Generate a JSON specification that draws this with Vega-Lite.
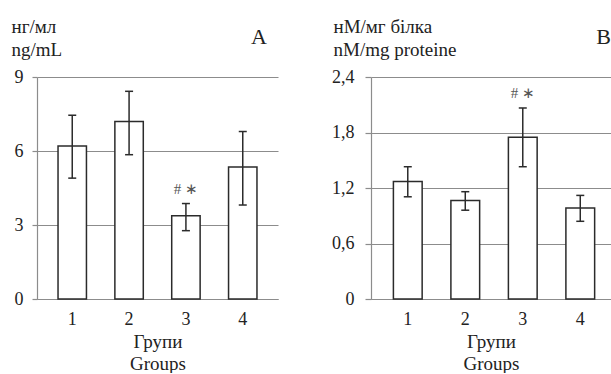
{
  "$schema": "https://vega.github.io/schema/vega-lite/v6.json",
  "background": "white",
  "padding": {"left": 11, "top": 17, "right": 0, "bottom": 0},
  "bounds": "flush",
  "spacing": 93,
  "config": {
    "font": "Liberation Serif",
    "view": {"stroke": null},
    "style": {"guide-title": {"font": "Liberation Serif", "fontSize": 19, "fontWeight": "normal", "fill": "#222"}},
    "axis": {
      "labelFont": "Liberation Serif", "titleFont": "Liberation Serif",
      "labelFontSize": 18, "titleFontSize": 19,
      "labelColor": "#222", "titleColor": "#222", "titleFontWeight": "normal",
      "domainColor": "#8c8c8c", "gridColor": "#8c8c8c", "tickColor": "#8c8c8c",
      "domainWidth": 1.2, "gridWidth": 1.2, "tickWidth": 1.2
    },
    "title": {"font": "Liberation Serif", "fontSize": 22, "fontWeight": "normal", "color": "#222", "anchor": "end", "frame": "group"}
  },
  "datasets": {
    "a": [
      {"group": "1", "mean": 6.2, "lo": 4.9, "hi": 7.45, "sig": ""},
      {"group": "2", "mean": 7.2, "lo": 5.85, "hi": 8.42, "sig": ""},
      {"group": "3", "mean": 3.37, "lo": 2.77, "hi": 3.87, "sig": "# ∗"},
      {"group": "4", "mean": 5.35, "lo": 3.81, "hi": 6.79, "sig": ""}
    ],
    "b": [
      {"group": "1", "mean": 1.27, "lo": 1.105, "hi": 1.43, "sig": ""},
      {"group": "2", "mean": 1.065, "lo": 0.96, "hi": 1.16, "sig": ""},
      {"group": "3", "mean": 1.75, "lo": 1.43, "hi": 2.065, "sig": "# ∗"},
      {"group": "4", "mean": 0.985, "lo": 0.84, "hi": 1.12, "sig": ""}
    ]
  },
  "hconcat": [
    {
      "width": 241, "height": 222,
      "title": {"text": "A", "dx": -11, "dy": 36},
      "data": {"name": "a"},
      "encoding": {
        "x": {"field": "group", "type": "ordinal",
          "scale": {"paddingInner": 0.5, "paddingOuter": 0.37},
          "axis": {"title": ["Групи", "Groups"], "titleFont": "Liberation Serif", "titleFontSize": 19, "labelAngle": 0, "ticks": false, "labelPadding": 11, "titleLineHeight": 22, "titlePadding": 4, "grid": false}}
      },
      "layer": [
        {"mark": {"type": "bar", "fill": "white", "stroke": "#2b2b2b", "strokeWidth": 1.5},
         "encoding": {"y": {"field": "mean", "type": "quantitative", "scale": {"domain": [0, 9], "nice": false},
           "axis": {"values": [0, 3, 6, 9], "tickSize": 5, "labelPadding": 9, "title": ["нг/мл", "ng/mL"], "titleFont": "Liberation Serif", "titleFontSize": 19, "titleAngle": 0, "titleAlign": "left", "titleBaseline": "alphabetic", "titleX": -26, "titleY": -45, "titleLineHeight": 23}}}},
        {"mark": {"type": "rule", "color": "#2b2b2b", "strokeWidth": 1.5},
         "encoding": {"y": {"field": "lo", "type": "quantitative"}, "y2": {"field": "hi"}}},
        {"mark": {"type": "tick", "color": "#2b2b2b", "thickness": 1.5, "size": 8, "opacity": 1},
         "encoding": {"y": {"field": "lo", "type": "quantitative"}}},
        {"mark": {"type": "tick", "color": "#2b2b2b", "thickness": 1.5, "size": 8, "opacity": 1},
         "encoding": {"y": {"field": "hi", "type": "quantitative"}}},
        {"mark": {"type": "text", "dy": -15, "fontSize": 15, "color": "#555", "font": "Liberation Serif"},
         "encoding": {"y": {"field": "hi", "type": "quantitative"}, "text": {"field": "sig"}}}
      ]
    },
    {
      "width": 240, "height": 222,
      "title": {"text": "B", "dx": 0, "dy": 36},
      "data": {"name": "b"},
      "encoding": {
        "x": {"field": "group", "type": "ordinal",
          "scale": {"paddingInner": 0.5, "paddingOuter": 0.337, "align": 0.578},
          "axis": {"title": ["Групи", "Groups"], "titleFont": "Liberation Serif", "titleFontSize": 19, "labelAngle": 0, "ticks": false, "labelPadding": 11, "titleLineHeight": 22, "titlePadding": 4, "grid": false}}
      },
      "layer": [
        {"mark": {"type": "bar", "fill": "white", "stroke": "#2b2b2b", "strokeWidth": 1.5},
         "encoding": {"y": {"field": "mean", "type": "quantitative", "scale": {"domain": [0, 2.4], "nice": false},
           "axis": {"values": [0, 0.6, 1.2, 1.8, 2.4], "labelExpr": "datum.value == 0 ? '0' : replace(format(datum.value, '.1f'), '.', ',')", "tickSize": 6, "labelPadding": 11, "title": ["нМ/мг білка", "nM/mg proteine"], "titleFont": "Liberation Serif", "titleFontSize": 19, "titleAngle": 0, "titleAlign": "left", "titleBaseline": "alphabetic", "titleX": -38, "titleY": -45, "titleLineHeight": 23}}}},
        {"mark": {"type": "rule", "color": "#2b2b2b", "strokeWidth": 1.5},
         "encoding": {"y": {"field": "lo", "type": "quantitative"}, "y2": {"field": "hi"}}},
        {"mark": {"type": "tick", "color": "#2b2b2b", "thickness": 1.5, "size": 8, "opacity": 1},
         "encoding": {"y": {"field": "lo", "type": "quantitative"}}},
        {"mark": {"type": "tick", "color": "#2b2b2b", "thickness": 1.5, "size": 8, "opacity": 1},
         "encoding": {"y": {"field": "hi", "type": "quantitative"}}},
        {"mark": {"type": "text", "dy": -15, "fontSize": 15, "color": "#555", "font": "Liberation Serif"},
         "encoding": {"y": {"field": "hi", "type": "quantitative"}, "text": {"field": "sig"}}}
      ]
    }
  ]
}
